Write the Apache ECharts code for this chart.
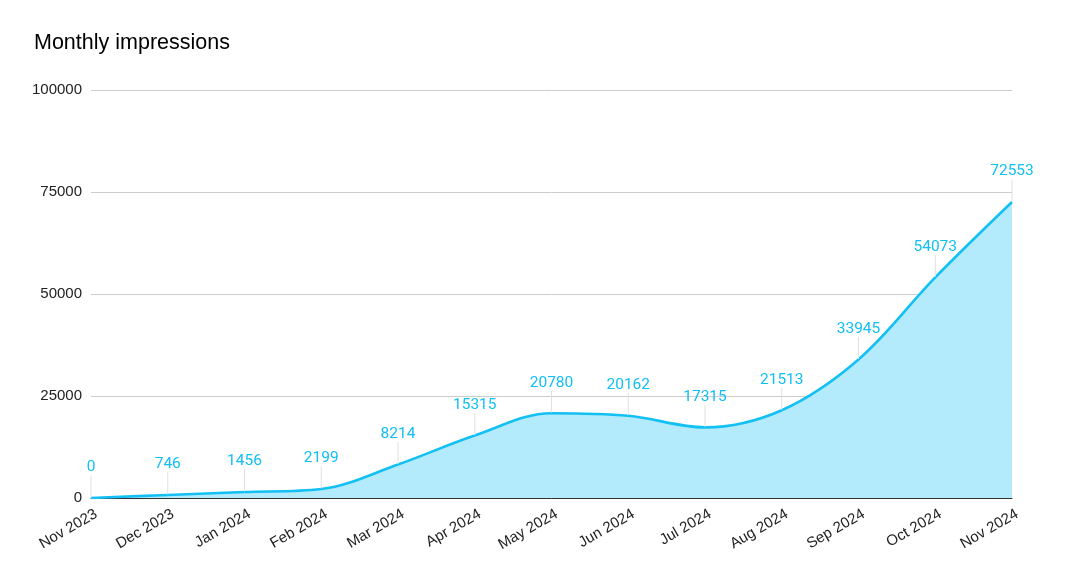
<!DOCTYPE html>
<html>
<head>
<meta charset="utf-8">
<script src="https://cdn.jsdelivr.net/npm/echarts@6/dist/echarts.min.js"></script>
<style>
  html, body { margin: 0; padding: 0; background: #fff; }
  #chart { width: 1074px; height: 580px; }
</style>
</head>
<body>
<div id="chart"></div>
<script>
/* ---- data ---- */
const months = ["Nov 2023", "Dec 2023", "Jan 2024", "Feb 2024", "Mar 2024", "Apr 2024",
  "May 2024", "Jun 2024", "Jul 2024", "Aug 2024", "Sep 2024", "Oct 2024", "Nov 2024"];
const impressions = [0, 746, 1456, 2199, 8214, 15315, 20780, 20162, 17315, 21513, 33945, 54073, 72553];
const yTicks = [0, 25000, 50000, 75000, 100000];

const LINE = "#12c0f4";
const FONT = "Liberation Sans, Arial, sans-serif";
const chart = echarts.init(document.getElementById("chart"), null, { renderer: "canvas" });

chart.setOption({
  backgroundColor: "#fff",
  animation: false,
  title: {
    text: "Monthly impressions", left: 29, top: 27,
    textStyle: { fontFamily: FONT, fontSize: 21.5, fontWeight: "normal", color: "#000" },
  },
  grid: { left: 91, right: 62, top: 90, bottom: 82, containLabel: false },
  xAxis: {
    type: "category", data: months, boundaryGap: false,
    axisLine: { lineStyle: { color: "#333", width: 1 } },
    axisTick: { show: false },
    axisLabel: {
      rotate: 30, interval: 0, margin: 18, padding: [0, -6, 0, 0],
      color: "#222", fontFamily: FONT, fontSize: 15,
    },
  },
  yAxis: {
    type: "value", min: yTicks[0], max: yTicks[yTicks.length - 1], interval: 25000,
    axisLine: { show: false }, axisTick: { show: false },
    axisLabel: { color: "#222", margin: 9, fontFamily: FONT, fontSize: 15, formatter: (v) => String(v) },
    splitLine: { lineStyle: { color: "#cccccc", width: 1 } },
  },
  series: [{
    type: "line", data: impressions, smooth: 0.35,
    symbol: "circle", symbolSize: 1, showSymbol: true,
    itemStyle: { color: "rgba(0,0,0,0)", borderWidth: 0 },
    lineStyle: { color: LINE, width: 2.6 },
    areaStyle: { color: "#b3ebfc", opacity: 1 },
    label: {
      show: true, position: "top", distance: 4,
      color: "#10bff5", fontFamily: "Roboto, sans-serif", fontSize: 15.5,
    },
    labelLayout: { dy: -18 },
    labelLine: { show: true, lineStyle: { color: "#e0e0e0", width: 1 } },
  }],
});
</script>
</body>
</html>
